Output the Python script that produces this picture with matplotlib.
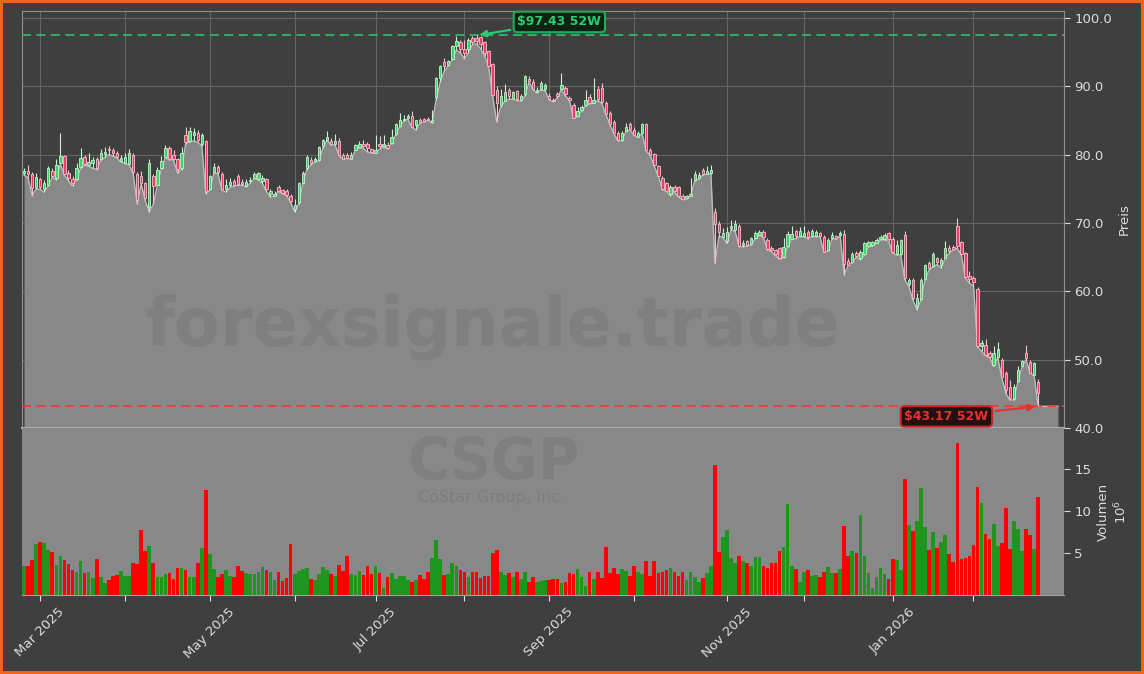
import numpy as np
import pandas as pd
import matplotlib
matplotlib.use("Agg")
import matplotlib.pyplot as plt

# ---------------- data ----------------
opens = [
    77.3, 77.6, 77.2, 75.2, 76.4, 75.0, 75.6, 77.6, 76.6, 78.8,
    79.8, 77.3, 76.4, 76.4, 78.2, 79.6, 78.5, 78.8, 79.3, 79.3,
    80.1, 80.8, 80.7, 80.3, 79.0, 78.8, 78.6, 80.0, 77.2, 76.8,
    75.9, 72.4, 76.8, 75.6, 78.0, 79.7, 80.9, 80.0, 79.3, 78.0,
    82.8, 82.0, 82.8, 83.2, 81.5, 82.0, 74.9, 77.5, 78.2, 77.2,
    74.9, 75.5, 76.1, 76.8, 76.0, 75.4, 76.1, 76.6, 76.4, 76.2,
    76.4, 74.2, 74.0, 75.3, 74.8, 74.6, 74.0, 72.0, 73.0, 75.9,
    78.0, 79.2, 79.0, 79.2, 81.2, 82.2, 82.0, 81.6, 82.0, 79.9,
    80.0, 79.4, 80.7, 81.1, 81.6, 81.5, 80.8, 80.3, 81.6, 81.2,
    81.4, 81.7, 83.0, 84.2, 85.0, 85.3, 85.7, 84.3, 85.1, 85.2,
    85.2, 84.7, 88.4, 91.2, 93.6, 93.1, 94.0, 95.9, 96.4, 95.4,
    95.4, 97.1, 97.1, 97.2, 96.4, 95.1, 93.2, 89.5, 87.2, 87.9,
    89.5, 88.3, 89.3, 88.0, 88.8, 91.0, 90.6, 89.2, 89.6, 89.6,
    88.6, 88.0, 88.9, 89.6, 89.8, 88.3, 87.2, 85.6, 86.5, 87.2,
    88.4, 87.6, 89.6, 89.8, 87.6, 86.1, 84.8, 83.2, 82.1, 83.5,
    84.4, 83.6, 82.6, 83.2, 84.4, 80.6, 80.1, 78.3, 76.6, 75.8,
    74.2, 75.3, 75.2, 73.9, 73.6, 74.0, 76.3, 76.5, 77.7, 77.2,
    77.3, 71.6, 69.9, 68.0, 67.3, 69.2, 68.9, 69.6, 66.8, 67.3,
    66.9, 67.8, 68.3, 68.6, 67.5, 66.3, 66.0, 66.3, 65.0, 66.6,
    67.7, 68.8, 68.1, 68.1, 68.6, 68.1, 68.1, 68.5, 68.0, 66.0,
    67.8, 68.1, 68.2, 68.4, 64.4, 64.3, 65.6, 64.9, 65.5, 66.6,
    66.7, 67.1, 67.6, 67.6, 68.5, 67.7, 65.4, 65.5, 68.3, 61.0,
    61.6, 57.8, 58.8, 61.8, 64.1, 63.7, 64.8, 63.8, 64.9, 66.4,
    66.5, 69.5, 67.2, 65.6, 62.2, 62.0, 60.4, 52.0, 52.2, 51.0,
    49.2, 50.4, 50.0, 48.1, 46.0, 44.2, 46.9, 49.0, 51.0, 49.7,
    47.8, 46.8,
]
highs = [
    78.0, 78.5, 77.4, 77.3, 76.6, 76.3, 78.3, 78.1, 79.3, 83.2,
    80.0, 77.8, 76.8, 78.7, 80.9, 79.9, 80.2, 79.6, 79.6, 80.8,
    81.1, 81.3, 81.0, 80.5, 80.0, 80.3, 80.8, 80.2, 77.5, 77.6,
    76.0, 79.4, 77.2, 78.2, 79.8, 81.4, 81.2, 80.6, 79.5, 81.1,
    84.0, 84.0, 83.9, 83.6, 83.2, 82.1, 77.0, 78.8, 78.5, 77.4,
    76.4, 76.6, 76.4, 77.1, 76.4, 76.4, 76.7, 77.5, 77.4, 77.0,
    76.6, 75.0, 74.6, 75.6, 75.0, 74.9, 74.3, 73.5, 76.0, 77.6,
    80.0, 79.7, 79.6, 81.2, 82.3, 83.4, 82.4, 83.0, 82.4, 80.2,
    80.3, 80.4, 81.6, 82.0, 82.2, 81.8, 81.0, 82.9, 82.7, 82.9,
    81.8, 83.8, 84.6, 86.1, 85.8, 85.9, 86.3, 85.1, 85.4, 85.4,
    85.5, 86.5, 91.4, 93.1, 94.1, 93.9, 96.0, 97.3, 96.7, 96.8,
    97.0, 97.3, 97.43, 97.4, 96.6, 95.3, 93.4, 90.0, 89.6, 90.3,
    89.8, 89.3, 89.5, 88.9, 91.7, 91.5, 91.0, 89.9, 90.8, 90.5,
    89.0, 88.3, 89.2, 92.0, 90.1, 88.6, 87.5, 86.9, 87.2, 89.5,
    88.9, 91.2, 90.0, 90.5, 87.8, 86.4, 85.0, 83.5, 83.4, 84.6,
    84.7, 84.0, 83.4, 84.6, 84.6, 80.9, 80.3, 78.5, 76.8, 76.0,
    75.5, 75.6, 75.4, 74.2, 74.1, 76.6, 77.6, 77.4, 78.0, 78.3,
    78.4, 72.2, 70.3, 69.2, 69.4, 70.5, 70.4, 69.8, 67.5, 67.5,
    68.0, 68.8, 69.0, 69.0, 67.8, 66.6, 66.2, 66.5, 67.8, 68.8,
    69.6, 69.0, 69.4, 69.6, 68.9, 69.1, 68.9, 68.7, 68.3, 67.8,
    68.6, 68.3, 68.8, 69.0, 64.8, 65.7, 65.9, 66.0, 67.2, 67.4,
    67.3, 67.8, 68.2, 68.5, 68.7, 67.9, 67.5, 67.7, 68.8, 62.0,
    61.9, 59.8, 62.0, 64.0, 64.5, 65.8, 65.0, 64.8, 67.4, 66.8,
    66.8, 70.7, 67.4, 65.8, 63.0, 62.3, 60.6, 52.8, 53.0, 51.3,
    52.0, 52.6, 50.3, 48.4, 47.0, 46.5, 49.0, 50.0, 52.2, 50.0,
    49.6, 47.2,
]
lows = [
    77.0, 76.6, 74.0, 75.0, 74.9, 74.5, 75.4, 76.7, 76.3, 78.6,
    77.0, 76.2, 75.4, 76.3, 78.0, 78.4, 78.3, 78.0, 77.8, 79.2,
    79.6, 80.0, 79.8, 79.5, 78.9, 78.7, 78.5, 77.3, 72.8, 75.7,
    73.3, 71.6, 72.7, 75.5, 77.9, 79.6, 79.2, 79.2, 77.3, 77.8,
    81.6, 81.8, 82.0, 81.8, 81.3, 74.3, 74.8, 77.3, 77.2, 74.8,
    74.5, 75.2, 75.4, 75.5, 75.5, 75.3, 75.8, 76.5, 76.3, 75.8,
    74.6, 73.8, 73.9, 74.6, 74.3, 74.0, 73.0, 71.6, 72.8, 75.8,
    77.8, 78.5, 78.9, 79.1, 81.0, 82.1, 81.4, 81.4, 79.8, 79.3,
    79.4, 79.3, 80.6, 81.0, 80.9, 80.4, 80.2, 80.2, 80.8, 81.1,
    80.8, 81.6, 82.9, 84.1, 84.9, 85.2, 84.0, 83.6, 84.6, 84.8,
    85.0, 84.6, 88.0, 90.6, 92.2, 93.0, 93.9, 95.3, 94.9, 94.0,
    94.9, 96.1, 96.2, 95.5, 94.4, 92.9, 88.5, 84.8, 87.0, 87.8,
    88.1, 88.1, 87.9, 87.8, 88.6, 90.6, 89.5, 89.0, 89.5, 89.3,
    88.0, 87.7, 88.3, 89.5, 88.6, 87.9, 85.3, 85.5, 86.4, 87.1,
    87.4, 87.5, 87.9, 87.5, 85.9, 84.4, 83.1, 82.0, 82.0, 83.4,
    83.6, 82.8, 82.5, 83.1, 80.5, 79.9, 78.3, 76.8, 74.9, 74.6,
    74.0, 74.5, 73.8, 73.4, 73.5, 73.9, 76.2, 76.4, 77.0, 77.1,
    77.2, 64.1, 68.0, 67.9, 67.0, 69.0, 68.8, 66.5, 66.5, 66.6,
    66.8, 67.7, 68.2, 67.9, 66.1, 65.8, 65.2, 64.7, 64.9, 66.5,
    67.6, 67.7, 68.0, 68.0, 67.7, 68.0, 68.0, 68.0, 65.7, 65.9,
    67.7, 67.6, 68.1, 62.4, 63.8, 64.2, 65.0, 64.6, 65.3, 66.5,
    66.6, 67.0, 67.5, 67.5, 67.3, 65.6, 65.3, 65.3, 61.7, 60.7,
    58.7, 57.3, 58.7, 61.7, 63.1, 63.6, 63.9, 63.4, 64.8, 65.6,
    66.0, 66.3, 65.3, 62.0, 61.2, 60.8, 51.9, 51.2, 50.6, 50.3,
    49.0, 50.3, 47.4, 45.1, 44.1, 44.1, 46.8, 48.9, 50.0, 48.0,
    47.7, 43.17,
]
closes = [
    77.6, 77.1, 75.1, 76.7, 75.3, 75.8, 78.0, 76.9, 78.4, 79.8,
    77.2, 76.5, 75.8, 78.0, 79.5, 78.6, 78.9, 79.2, 78.1, 80.3,
    80.4, 80.6, 80.2, 79.6, 79.5, 79.6, 80.2, 77.5, 73.3, 75.9,
    73.6, 78.8, 75.4, 77.7, 79.0, 81.0, 79.4, 79.4, 77.9, 80.3,
    81.9, 83.5, 83.3, 82.2, 82.9, 74.6, 76.8, 78.2, 77.5, 75.0,
    75.6, 76.0, 75.6, 75.7, 75.7, 76.0, 76.3, 77.2, 77.3, 76.6,
    74.9, 74.6, 74.3, 74.7, 74.4, 74.1, 73.2, 72.6, 75.8, 77.3,
    79.6, 78.7, 79.3, 81.1, 82.2, 82.6, 81.6, 82.0, 79.9, 79.4,
    79.5, 80.0, 81.4, 81.5, 81.2, 81.0, 80.4, 80.7, 81.2, 81.6,
    81.0, 82.6, 84.4, 85.0, 85.2, 85.6, 84.1, 85.0, 84.8, 84.9,
    85.1, 85.1, 91.2, 92.9, 93.0, 93.7, 95.9, 96.6, 95.4, 94.9,
    96.8, 96.5, 96.6, 96.1, 94.9, 93.0, 88.7, 87.5, 88.5, 89.2,
    88.5, 89.1, 88.2, 88.6, 91.5, 90.8, 89.6, 89.5, 90.5, 90.2,
    88.1, 87.8, 88.5, 90.2, 88.8, 88.0, 85.4, 86.4, 87.0, 88.0,
    87.6, 88.0, 88.1, 87.7, 86.0, 84.5, 83.2, 82.1, 83.2, 84.0,
    83.8, 82.9, 83.2, 84.4, 80.6, 80.0, 78.4, 76.9, 75.0, 74.7,
    75.3, 74.6, 73.9, 73.5, 73.9, 74.3, 77.2, 77.0, 77.1, 77.6,
    77.8, 69.8, 68.7, 68.5, 68.7, 69.6, 69.8, 66.6, 67.0, 66.8,
    67.8, 68.5, 68.6, 68.0, 66.2, 66.0, 65.4, 64.8, 66.5, 68.4,
    68.4, 68.1, 68.8, 68.5, 68.0, 68.8, 68.6, 68.1, 65.8, 67.5,
    68.2, 67.8, 68.5, 64.0, 63.9, 65.5, 65.1, 65.8, 67.0, 67.2,
    67.2, 67.5, 68.0, 68.3, 67.6, 65.8, 66.8, 67.5, 62.0, 61.6,
    59.0, 59.0, 61.7, 63.8, 63.4, 65.5, 64.3, 64.6, 66.4, 65.9,
    66.2, 66.6, 65.5, 62.1, 61.8, 61.4, 52.0, 52.4, 50.7, 50.4,
    51.0, 51.6, 47.5, 45.6, 44.4, 46.0, 48.5, 49.8, 50.2, 48.1,
    49.5, 45.1,
]
volumes_mio = [
    3.5, 3.5, 4.2, 6.1, 6.3, 6.2, 5.4, 5.1, 3.6, 4.6,
    4.2, 3.7, 3.0, 2.7, 4.1, 2.6, 2.7, 2.0, 4.3, 2.2,
    1.4, 1.8, 2.3, 2.4, 2.9, 2.3, 2.3, 3.8, 3.7, 7.7,
    5.2, 5.8, 3.8, 2.1, 2.2, 2.5, 2.6, 1.9, 3.2, 3.2,
    3.0, 2.2, 2.2, 3.8, 5.6, 12.5, 4.9, 3.1, 2.2, 2.5,
    3.0, 2.3, 2.2, 3.5, 2.9, 2.6, 2.5, 2.5, 2.7, 3.3,
    3.0, 2.8, 1.8, 2.7, 1.7, 2.0, 6.1, 2.5, 2.9, 3.1,
    3.2, 1.9, 1.8, 2.5, 3.3, 3.0, 2.5, 2.3, 3.6, 2.9,
    4.6, 2.5, 2.4, 2.9, 2.4, 3.5, 2.5, 3.5, 2.6, 0.8,
    2.2, 2.6, 1.9, 2.3, 2.3, 1.8, 1.6, 1.8, 2.4, 1.9,
    2.7, 4.4, 6.5, 4.3, 2.4, 2.5, 3.8, 3.5, 3.0, 2.8,
    2.2, 2.7, 2.7, 2.0, 2.3, 2.3, 5.0, 5.4, 2.7, 2.4,
    2.6, 2.2, 2.7, 1.9, 2.7, 1.5, 2.2, 1.6, 1.7, 1.8,
    1.8, 1.9, 1.9, 1.4, 1.5, 2.6, 2.5, 3.1, 2.1, 1.1,
    2.8, 1.9, 2.8, 2.0, 5.7, 2.6, 3.2, 2.5, 3.1, 2.9,
    2.3, 3.5, 2.7, 2.5, 4.0, 2.3, 4.0, 2.6, 2.8, 3.0,
    3.2, 2.7, 2.3, 2.7, 1.8, 2.7, 2.1, 1.6, 2.0, 2.6,
    3.5, 15.5, 5.1, 6.9, 7.8, 4.4, 3.8, 4.6, 4.0, 3.8,
    3.5, 4.5, 4.5, 3.5, 3.2, 3.8, 3.8, 5.3, 5.7, 10.9,
    3.5, 3.1, 1.6, 2.8, 3.0, 2.3, 2.4, 2.1, 2.8, 3.3,
    2.6, 2.6, 3.1, 8.2, 4.6, 5.2, 5.0, 9.5, 4.6, 2.6,
    0.8, 2.1, 3.2, 2.5, 1.9, 4.3, 4.2, 3.0, 13.8, 8.3,
    7.6, 8.8, 12.7, 8.1, 5.4, 7.5, 5.6, 6.3, 7.1, 4.9,
    3.9, 18.1, 4.3, 4.4, 4.6, 6.0, 12.9, 11.0, 7.3, 6.7,
    8.5, 5.9, 6.2, 10.4, 5.5, 8.8, 7.9, 5.2, 7.9, 7.1,
    5.5, 11.7,
]
high_52w = 97.43
low_52w = 43.17
ticker = "CSGP"
company = "CoStar Group, Inc."
watermark = "forexsignale.trade"
us_holidays = ["2025-04-18", "2025-05-26", "2025-06-19", "2025-07-04",
               "2025-09-01", "2025-11-27", "2025-12-25", "2026-01-01",
               "2026-01-19", "2026-02-16"]

# ---------------- prep ----------------
o = np.array(opens); h = np.array(highs); l = np.array(lows); c = np.array(closes)
v = np.array(volumes_mio)
n = len(c)
x = np.arange(n)
dates = pd.bdate_range("2025-02-25", "2026-02-25", freq="C", holidays=us_holidays)[:n]

BG = "#3f3f3f"
AREA = "#888888"
TXT = "#dcdcdc"

fig = plt.figure(figsize=(11.44, 6.74), dpi=100, facecolor=BG,
                 edgecolor="#f2641a", linewidth=3)
ax = fig.add_axes([22 / 1144, 1 - 428 / 674, (1064 - 22) / 1144, (428 - 11) / 674])
axv = fig.add_axes([22 / 1144, 1 - 595 / 674, (1064 - 22) / 1144, (595 - 428) / 674],
                   sharex=ax)

# ---------------- price panel ----------------
ax.set_facecolor(BG)
fx = np.append(x, n - 1 + 4.9)
fl = np.append(l, l[-1])
ax.fill_between(fx, fl, 40, color=AREA, zorder=1, linewidth=0)
ax.plot(fx, fl, color="#bdbdbd", lw=1.0, zorder=2)

up = c >= o
body_col = np.where(up, "#3fd46a", "#ee3d66")
edge_col = np.where(up, "#c6f2cf", "#f6c0cd")
ax.vlines(x, l, h, colors=edge_col, lw=0.8, zorder=4)
ax.bar(x, np.maximum(np.abs(c - o), 0.1), bottom=np.minimum(o, c), width=0.6,
       color=body_col, edgecolor=edge_col, linewidth=0.6, zorder=5)

ax.axhline(high_52w, color="#2fb866", ls=(0, (5, 3)), lw=1.3, zorder=3)
ax.axhline(low_52w, color="#e8403a", ls=(0, (5, 3)), lw=1.3, zorder=3)

i_hi = int(np.argmax(h))
i_lo = int(np.argmin(l))
ax.annotate(r"\$%.2f 52W" % high_52w, xy=(i_hi, high_52w), xytext=(132.5, 99.4),
            color="#2ecc71", fontsize=9, fontweight="bold", ha="center", va="center",
            bbox=dict(boxstyle="round,pad=0.3", fc="#0c2214", ec="#25a85a", lw=1.5),
            arrowprops=dict(arrowstyle="-|>", color="#2ecc71", lw=1.5, mutation_scale=10),
            zorder=10)
ax.annotate(r"\$%.2f 52W" % low_52w, xy=(i_lo, low_52w), xytext=(228.3, 41.7),
            color="#e8302e", fontsize=9, fontweight="bold", ha="center", va="center",
            bbox=dict(boxstyle="round,pad=0.3", fc="#241010", ec="#c82828", lw=1.5),
            arrowprops=dict(arrowstyle="-|>", color="#e8302e", lw=1.5, mutation_scale=10),
            zorder=10)

ax.set_ylim(40, 101)
ax.set_xlim(-0.5, n + 5.4)
ax.yaxis.tick_right()
ax.yaxis.set_label_position("right")
yt = [40, 50, 60, 70, 80, 90, 100]
ax.set_yticks(yt)
ax.set_yticklabels(["%.1f" % t for t in yt])
ax.set_ylabel("Preis", color=TXT, fontsize=9.5)
ax.tick_params(axis="y", colors=TXT, labelsize=9.5, length=4)
ax.tick_params(axis="x", length=0, labelbottom=False)
ax.grid(True, color="#646464", lw=0.8)
ax.set_axisbelow(True)
for s in ["left", "top", "right"]:
    ax.spines[s].set_color("#8e8e8e")
ax.spines["bottom"].set_color("#aaaaaa")
ax.spines["bottom"].set_linewidth(1.6)

# ---------------- volume panel ----------------
axv.set_facecolor(AREA)
axv.bar(x, v, width=0.9, color=np.where(up, "#1e961e", "#ff0000"), zorder=2)
axv.set_ylim(0, v.max() * 1.1)
axv.yaxis.tick_right()
axv.yaxis.set_label_position("right")
axv.set_yticks([5, 10, 15])
axv.set_ylabel("Volumen\n$10^6$", color=TXT, fontsize=9.5)
axv.tick_params(axis="y", colors=TXT, labelsize=9.5, length=4)
for s in ["left", "top", "right"]:
    axv.spines[s].set_visible(False)
axv.spines["bottom"].set_color("#a0a0a0")

month_idx = [i for i in range(1, n) if dates[i].month != dates[i - 1].month]
month_lab = [dates[i].strftime("%b %Y") if dates[i].month % 2 == 1 else "" for i in month_idx]
axv.set_xticks(month_idx)
axv.set_xticklabels(month_lab, rotation=45, ha="center")
axv.tick_params(axis="x", colors=TXT, labelsize=9.5, length=4)

# ---------------- watermarks ----------------
fig.text(0.431, 0.515, watermark, fontsize=48, fontweight="bold", color="#666666",
         alpha=0.25, ha="center", va="center")
fig.text(0.431, 0.313, ticker, fontsize=41, fontweight="bold", color="#666666",
         alpha=0.25, ha="center", va="center")
fig.text(0.430, 0.262, company, fontsize=11.5, color="#666666",
         alpha=0.35, ha="center", va="center")

fig.savefig("out.png", dpi=100, facecolor=fig.get_facecolor(),
            edgecolor=fig.get_edgecolor())
